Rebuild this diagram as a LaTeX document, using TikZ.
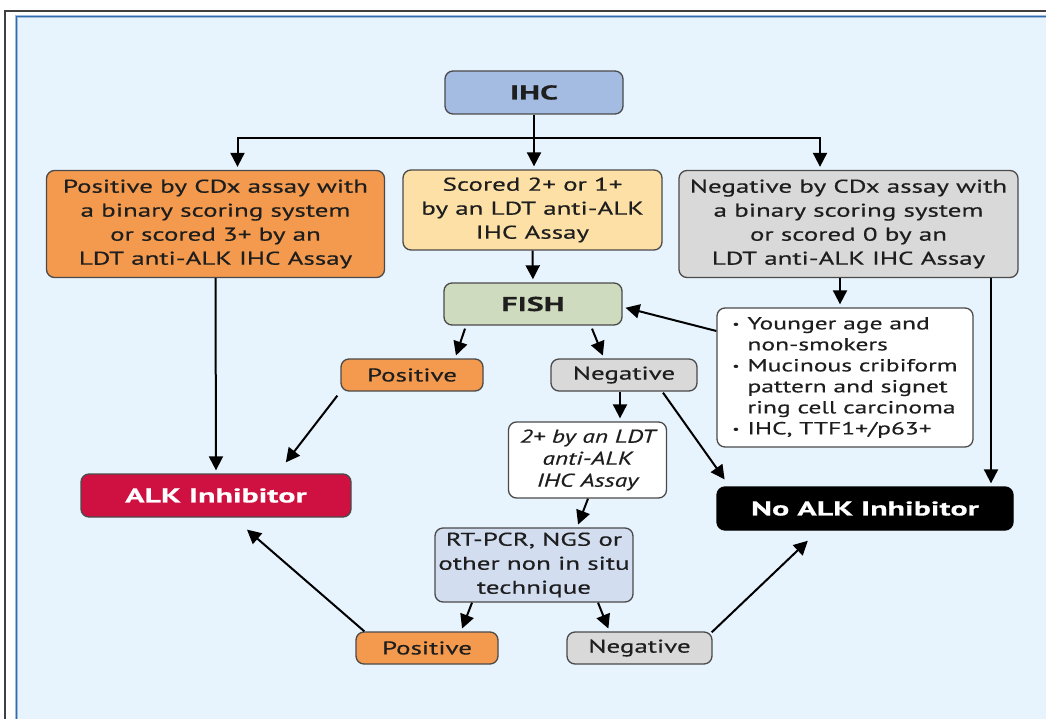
\documentclass[tikz,border=0pt]{standalone}
\usepackage{fontspec}
\setmainfont{PT Sans}[FakeStretch=1.46, FakeBold=0.4,
  BoldFeatures={FakeStretch=1.6},
  ItalicFeatures={FakeStretch=1.37}]
\usetikzlibrary{arrows.meta}
\definecolor{bgblue}{HTML}{E8F4FD}
\definecolor{frameblue}{HTML}{2F6BAF}
\definecolor{ihcblue}{HTML}{A4BCE2}
\definecolor{orangebox}{HTML}{F49A4E}
\definecolor{peach}{HTML}{FDE0A6}
\definecolor{greybox}{HTML}{D9D9D9}
\definecolor{fishgreen}{HTML}{CFDBBE}
\definecolor{pcrblue}{HTML}{D2DDF0}
\definecolor{alkred}{HTML}{CE1141}
\definecolor{ink}{HTML}{1E1E1E}
\definecolor{edgegrey}{HTML}{4A4A4A}
% small list bullet with hanging indent
\newcommand\bulitem{\makebox[15pt][l]{\raisebox{0.2ex}{\scalebox{0.6}{\textbullet}}}}
\newcommand\bulind{\hspace*{15pt}}
\begin{document}
\begin{tikzpicture}[x=1pt,y=-1pt,
  box/.style={draw=edgegrey, line width=1.3pt, rounded corners=8pt, align=center,
    inner sep=0pt, text=ink, font=\fontsize{18.5}{24}\selectfont},
  boldbox/.style={box, font=\bfseries\fontsize{20}{24}\selectfont},
  arr/.style={draw=black, line width=2pt, shorten >=3pt,
    -{Triangle[length=14pt,width=14pt]}},
  ln/.style={draw=black, line width=2pt}
]
% page, frame and panel
\useasboundingbox (0,0) rectangle (1046,719);
\fill[white] (0,0) rectangle (1046,719);
\fill[bgblue] (16,16) rectangle (1046,719);
\draw[line width=1.5pt, black!75] (5,719) -- (5,11) -- (1046,11);
\draw[line width=3.5pt, frameblue!45] (16.5,719) -- (16.5,16.5) -- (1046,16.5);
\draw[line width=1.8pt, frameblue] (16.5,719) -- (16.5,16.5) -- (1046,16.5);

% boxes
\node[boldbox, fill=ihcblue, minimum width=178, minimum height=43] (ihc) at (534,92.5) {IHC};
\node[box, fill=orangebox, minimum width=338, minimum height=107] (lft) at (215.5,224)
  {Positive by CDx assay with\\a binary scoring system\\or scored 3+ by an\\LDT anti-ALK IHC Assay};
\node[box, fill=peach, minimum width=259, minimum height=80] (mid) at (532.5,210)
  {Scored 2+ or 1+\\by an LDT anti-ALK\\IHC Assay};
\node[box, fill=greybox, minimum width=339, minimum height=107] (rgt) at (848.5,224)
  {Negative by CDx assay with\\a binary scoring system\\or scored 0 by an\\LDT anti-ALK IHC Assay};
\node[boldbox, fill=fishgreen, minimum width=178, minimum height=42] (fish) at (533,304) {FISH};
\node[box, fill=white, minimum width=256, minimum height=139, align=left,
  font=\fontsize{17.5}{21}\selectfont] (bul) at (845,377.5)
  {\bulitem Younger age and\\\bulind non-smokers\\\bulitem Mucinous cribiform\\
   \bulind pattern and signet\\\bulind ring cell carcinoma\\\bulitem IHC, TTF1+/p63+};
\node[box, fill=orangebox, minimum width=142, minimum height=32] (posA) at (412,375) {Positive};
\node[box, fill=greybox, minimum width=146, minimum height=32] (negA) at (624,375) {Negative};
\node[box, fill=white, minimum width=158, minimum height=76,
  font=\itshape\fontsize{18.5}{22}\selectfont] (two) at (587.5,460)
  {2+ by an LDT\\anti-ALK\\IHC Assay};
\node[box, fill=alkred, text=white, minimum width=270, minimum height=43,
  font=\bfseries\fontsize{20}{24}\selectfont] (alk) at (216,495.5) {ALK Inhibitor};
\node[box, fill=black, draw=black, text=white, minimum width=296, minimum height=43,
  font=\bfseries\fontsize{20}{24}\selectfont] (noalk) at (865,508.5) {No ALK Inhibitor};
\node[box, fill=pcrblue, minimum width=198, minimum height=74] (pcr) at (534,565)
  {RT-PCR, NGS or\\other non in situ\\technique};
\node[box, fill=orangebox, minimum width=142, minimum height=32] (posB) at (427,648) {Positive};
\node[box, fill=greybox, minimum width=145, minimum height=32] (negB) at (639.5,648) {Negative};

% IHC branches
\draw[ln] (ihc.south) -- ++(0,23) coordinate (j);
\draw[arr] (j) -| ([xshift=22pt]lft.north);
\draw[arr] (j) -- (j |- mid.north);
\draw[arr] (j) -| ([xshift=-28.5pt]rgt.north);

% first tier to FISH and results
\draw[arr] (mid.south) -- (fish.north);
\draw[arr] (lft.south) -- (alk.north);
\coordinate (r1) at ([xshift=-8.5pt]rgt.south);
\draw[arr] (r1) -- (r1 |- bul.north);
\coordinate (r2) at ([xshift=142.5pt]rgt.south);
\draw[arr] (r2) -- (r2 |- noalk.north);
\draw[arr] ([yshift=46.5pt]bul.west) -- ([yshift=-3pt]fish.east);

% FISH outcomes
\draw[arr] ([xshift=-68pt,yshift=-3pt]fish.south) -- ([xshift=43pt]posA.north);
\draw[arr] ([xshift=59pt,yshift=-3pt]fish.south) -- ([xshift=-20pt]negA.north);
\coordinate (n1) at ([xshift=-4pt]negA.south);
\draw[arr] (n1) -- (n1 |- two.north);
\draw[arr] ([xshift=39pt,yshift=-1pt]negA.south) -- ([xshift=10pt,yshift=4.5pt]noalk.north west);
\draw[arr] ([xshift=-3pt,yshift=-4pt]posA.south west) -- ([xshift=68pt,yshift=8.6pt]alk.north);

% confirmation by non in situ technique
\draw[arr] ([xshift=0.5pt]two.south) -- ([xshift=43pt]pcr.north);
\draw[arr] ([xshift=-62pt]pcr.south) -- ([xshift=34pt]posB.north);
\draw[arr] ([xshift=64pt]pcr.south) -- ([xshift=-30pt]negB.north);
\draw[arr] ([xshift=9pt]posB.north west) -- ([xshift=28.7pt,yshift=-10pt]alk.south);
\draw[arr] ([xshift=-1pt,yshift=-1pt]negB.north east) -- ([xshift=-55pt,yshift=-8pt]noalk.south);
\end{tikzpicture}
\end{document}
